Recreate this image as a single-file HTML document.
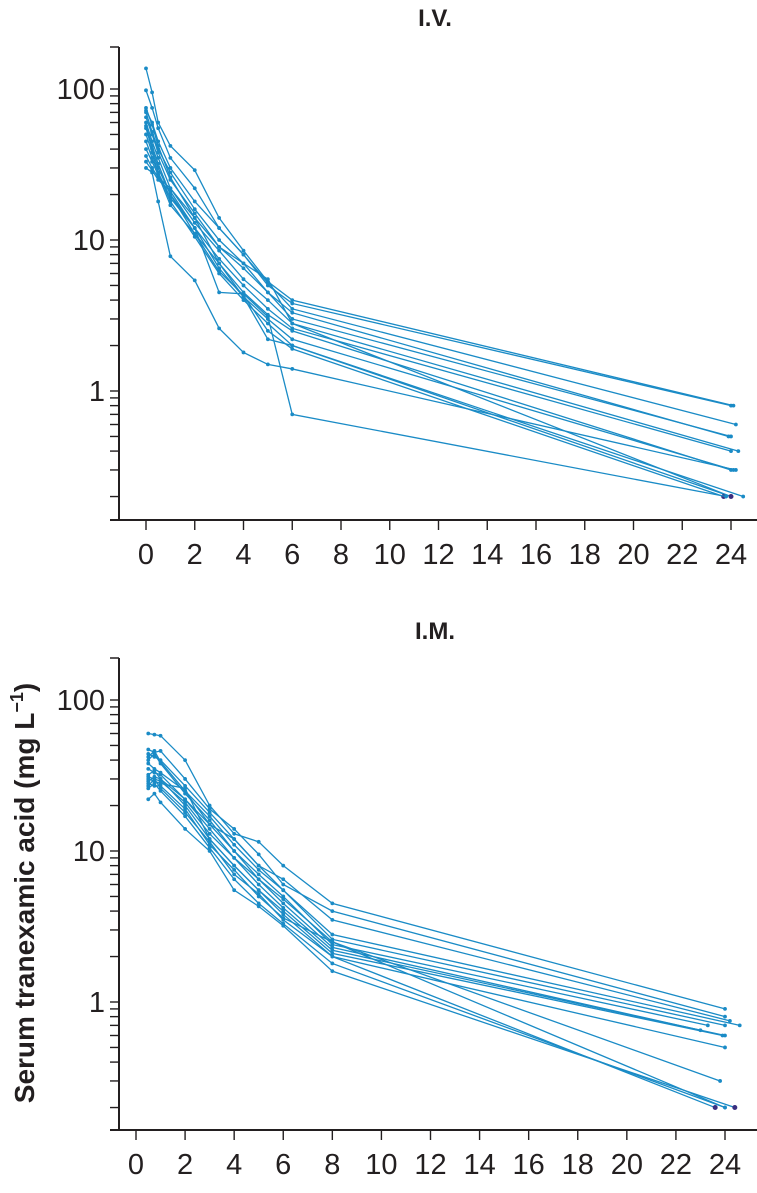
<!DOCTYPE html>
<html>
<head>
<meta charset="utf-8">
<style>
html,body{margin:0;padding:0;background:#fff;}
svg{display:block;}
text{font-family:"Liberation Sans",Arial,sans-serif;fill:#231f20;}
</style>
</head>
<body>
<svg id="chart" width="757" height="1193" viewBox="0 0 757 1193" xmlns="http://www.w3.org/2000/svg">
  <text x="435" y="26" text-anchor="middle" font-size="24" font-weight="bold">I.V.</text>
  <text x="435" y="639" text-anchor="middle" font-size="24" font-weight="bold">I.M.</text>
  <text transform="translate(34,893) rotate(-90)" text-anchor="middle" font-size="28" font-weight="bold">Serum tranexamic acid (mg L<tspan dy="-11" font-size="18">−1</tspan><tspan dy="11">)</tspan></text>
  <g id="iv"></g>
  <g id="im"></g>
</svg>
<script>
// ---- data ----
const xTickLabels = [0,2,4,6,8,10,12,14,16,18,20,22,24];
const yTickLabels = [1,10,100];
const ivTimes = [0,0.25,0.5,1,2,3,4,5,6];
const ivEndTimes = [24.1,24.0,24.2,24.0,23.9,24.3,24.0,24.0,24.1,24.0,23.7,24.5,24.2,23.8,24.0];
const ivValues = [
  [137,95,60,42,29,14,8.5,5.3,4.0,0.8],
  [98,75,55,35,22,12,8,5.0,3.8,0.8],
  [72,60,45,30,18,12,8,5.2,3.5,0.6],
  [70,52,40,28,16,10,7,4.5,3.0,0.5],
  [65,50,38,25,15,9,6.5,4.5,3.3,0.5],
  [60,45,35,22,13,8.5,5.5,4.0,2.8,0.4],
  [57,42,32,20,12,7.5,5,3.5,2.6,0.4],
  [55,40,30,20,11,7,4.5,3.2,2.5,0.3],
  [50,38,28,19,12,6.5,4.2,3,2.2,0.3],
  [45,35,28,18,10.5,6,4,2.8,2.0,0.2],
  [40,33,27,17,11,6.2,4.3,2.5,1.9,0.2],
  [36,30,26,22,14,7,4.2,2.2,2.0,0.2],
  [30,28,18,7.8,5.4,2.6,1.8,1.5,1.4,0.3],
  [33,29,25,21,12,4.5,4.4,3.1,0.7,0.2],
  [75,58,42,26,14,9,7,5.5,2.8,0.2]
];
const imTimes = [0.5,0.75,1,2,3,4,5,6,8];
const imEndTimes = [24.0,24.0,24.6,24.0,23.3,23.0,24.0,23.9,24.0,23.8,23.6,24.0,24.4,24.0,24.2];
const imValues = [
  [60,59,58,40,20,13,11.5,8,4.5,0.9],
  [47,45,46,30,19,14,9.5,6,4.0,0.8],
  [44,42,40,27,18,12,8,5.5,2.8,0.7],
  [42,46,39,25,17,11,7.5,5.5,2.6,0.7],
  [40,44,38,24,16,10,7,5,2.4,0.7],
  [35,33,32,22,15,10,6.5,4.5,2.3,0.65],
  [31,30,29,21,13,9,6,4.2,2.2,0.6],
  [30,29,28,26,12,8,5.5,4.0,2.1,0.6],
  [29,31,30,20,12,8,5.5,3.8,2.0,0.5],
  [28,27,27,19,11,7.5,5,3.6,2.5,0.3],
  [27,30,26,18,11.5,7,5.2,3.5,2.0,0.2],
  [26,28,25,17,10.5,6.5,4.5,3.3,1.8,0.2],
  [22,24,21,14,10,5.5,4.3,3.2,1.6,0.2],
  [32,34,30,22,14,9,6.5,4.8,2.5,0.2],
  [38,35,33,25,15,12,8,6.5,3.5,0.75]
];

const NS = "http://www.w3.org/2000/svg";
const LINE = "#1a8bc6";
function mk(tag, attrs, parent){
  const e = document.createElementNS(NS, tag);
  for (const k in attrs) e.setAttribute(k, attrs[k]);
  parent.appendChild(e);
  return e;
}

function drawPanel(g, cfg, times, endTimes, values, prefix){
  const xs = t => cfg.x0 + (cfg.x24 - cfg.x0) * t / 24;
  const ys = v => cfg.y1 - cfg.dec * Math.log10(v);
  const ax = 119;
  const ya = mk('line', {x1:ax, y1:cfg.top, x2:ax, y2:cfg.bottom, stroke:'#231f20', 'stroke-width':2}, g);
  
  
  const xa = mk('line', {x1:110, y1:cfg.bottom, x2:757, y2:cfg.bottom, stroke:'#231f20', 'stroke-width':2}, g);
  
  
  mk('line', {x1:110, y1:cfg.top, x2:ax, y2:cfg.top, stroke:'#231f20', 'stroke-width':1.5}, g);
  for (let d = -1; d <= 2; d++) {
    for (let m = 1; m <= 9; m++) {
      const v = m * Math.pow(10, d);
      const y = ys(v);
      if (y < cfg.top || y > cfg.bottom) continue;
      mk('line', {x1:ax-9, y1:y, x2:ax, y2:y, stroke:'#231f20', 'stroke-width':1.4}, g);
    }
  }
  yTickLabels.forEach(v => {
    const t = mk('text', {x:ax-14, y:ys(v)+10, 'text-anchor':'end', 'font-size':29}, g);
    
    
    t.textContent = v;
  });
  xTickLabels.forEach(v => {
    const x = xs(v);
    mk('line', {x1:x, y1:cfg.bottom, x2:x, y2:cfg.bottom+10, stroke:'#231f20', 'stroke-width':1.4}, g);
    const t = mk('text', {x:x, y:cfg.bottom+44, 'text-anchor':'middle', 'font-size':29}, g);
    
    
    t.textContent = v;
  });
  values.forEach((vals, i) => {
    const ts = times.concat([endTimes[i]]);
    const pts = vals.map((v, j) => [xs(ts[j]), ys(v)]);
    const pl = mk('polyline', {points: pts.map(p => p.join(',')).join(' '), fill:'none', stroke:LINE, 'stroke-width':1.3}, g);
    
    
    pts.forEach((p, j) => {
      const last = j === pts.length - 1 && vals[j] <= 0.2 && i % 2 === 0;
      const c = mk('circle', {cx:p[0], cy:p[1], r: last ? 2.5 : 1.9, fill: last ? '#3a2f80' : LINE}, g);
      
      
    });
  });
}

drawPanel(document.getElementById('iv'), {x0:146, x24:731, y1:391, dec:151, top:47, bottom:520}, ivTimes, ivEndTimes, ivValues, 'iv');
drawPanel(document.getElementById('im'), {x0:136, x24:725, y1:1002, dec:151, top:658, bottom:1130}, imTimes, imEndTimes, imValues, 'im');
</script>
</body>
</html>
